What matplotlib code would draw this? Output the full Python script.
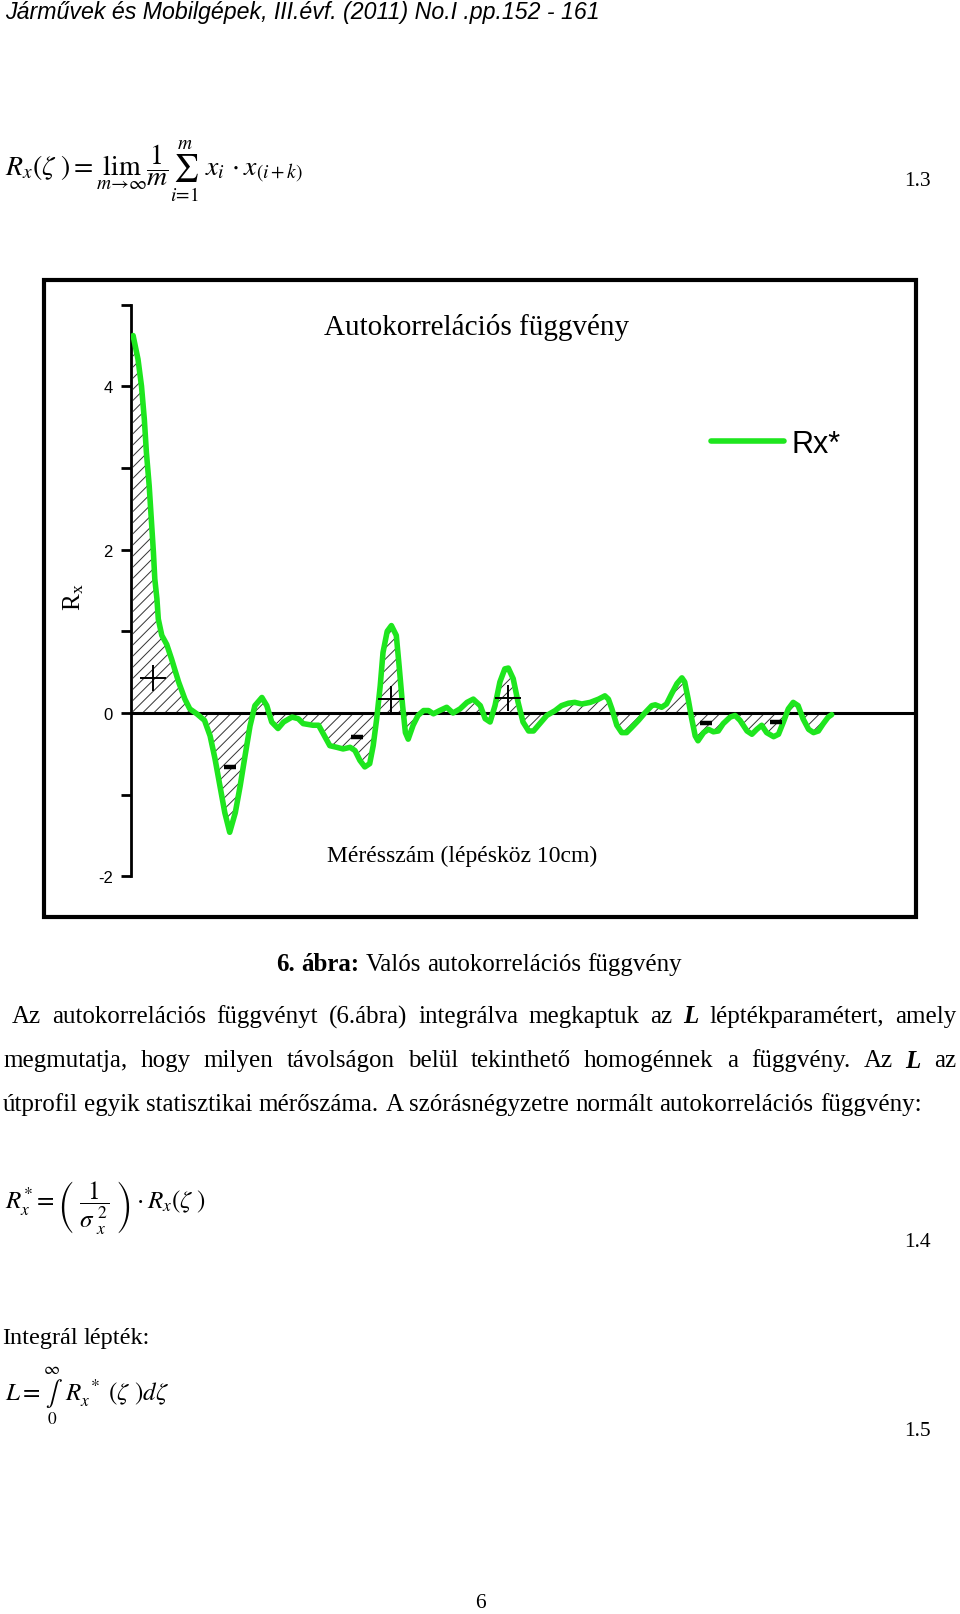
import matplotlib
matplotlib.use("Agg")
import matplotlib.pyplot as plt
from matplotlib.patches import Rectangle

plt.rcParams["axes.unicode_minus"] = False
plt.rcParams["mathtext.fontset"] = "stix"
plt.rcParams["hatch.linewidth"] = 0.7

W, H = 960, 1615
SERIF = "Liberation Serif"
SANS = "Liberation Sans"

# autocorrelation curve
lag = [0.3, 1.0, 1.5, 1.9, 2.2, 2.6, 2.9, 3.2, 3.4, 3.7,
       3.9, 4.4, 5.1, 5.8, 6.8, 7.7, 8.4, 9.4, 10.5, 11.3,
       12.0, 12.7, 13.4, 14.1, 14.9, 15.6, 16.3, 17.0, 17.7, 18.7,
       19.4, 20.1, 21.0, 21.8, 23.0, 23.9, 24.6, 26.0, 26.8, 27.5,
       28.4, 29.4, 30.3, 31.3, 32.0, 32.7, 33.4, 34.1, 34.6, 35.1,
       35.6, 36.0, 36.6, 37.2, 37.9, 38.3, 38.8, 39.2, 39.6, 40.3,
       41.0, 41.8, 42.5, 43.2, 44.1, 45.1, 46.0, 47.0, 48.0, 48.9,
       49.9, 50.6, 51.3, 52.0, 52.7, 53.4, 53.9, 54.6, 55.3, 56.0,
       56.8, 57.5, 58.4, 59.4, 60.6, 61.5, 62.5, 63.4, 64.4, 65.6,
       66.8, 67.7, 68.2, 68.7, 69.4, 70.1, 70.8, 71.5, 72.5, 73.4,
       74.4, 74.9, 75.8, 76.5, 77.2, 78.0, 78.7, 79.1, 79.6, 80.1,
       80.6, 81.0, 81.8, 82.5, 83.2, 83.9, 84.6, 85.6, 86.3, 87.0,
       88.0, 88.7, 89.4, 90.1, 90.8, 91.8, 92.5, 93.2, 93.9, 94.6,
       95.3, 96.0, 96.8, 97.5, 98.2, 98.9, 99.6, 100.1]
rx = [4.62, 4.33, 4.0, 3.6, 3.19, 2.78, 2.37, 1.97, 1.64, 1.40,
      1.15, 0.95, 0.84, 0.66, 0.38, 0.17, 0.05, -0.01, -0.09, -0.28,
      -0.56, -0.89, -1.22, -1.46, -1.22, -0.89, -0.52, -0.16, 0.09, 0.19,
      0.09, -0.11, -0.19, -0.11, -0.05, -0.07, -0.13, -0.15, -0.15, -0.26,
      -0.40, -0.42, -0.44, -0.42, -0.46, -0.58, -0.66, -0.62, -0.40, -0.07,
      0.33, 0.74, 1.0, 1.07, 0.95, 0.58, 0.09, -0.24, -0.32, -0.15,
      -0.03, 0.03, 0.03, -0.01, 0.03, 0.07, 0.0, 0.05, 0.13, 0.17,
      0.09, -0.07, -0.11, 0.09, 0.38, 0.54, 0.55, 0.42, 0.13, -0.11,
      -0.22, -0.22, -0.13, -0.03, 0.03, 0.09, 0.12, 0.13, 0.11, 0.13,
      0.17, 0.21, 0.17, 0.05, -0.15, -0.24, -0.24, -0.18, -0.09, 0.0,
      0.09, 0.10, 0.07, 0.11, 0.23, 0.36, 0.43, 0.38, 0.17, -0.07,
      -0.28, -0.34, -0.24, -0.20, -0.23, -0.22, -0.13, -0.05, -0.03, -0.09,
      -0.22, -0.26, -0.20, -0.15, -0.24, -0.29, -0.26, -0.11, 0.05, 0.13,
      0.09, -0.07, -0.20, -0.24, -0.22, -0.13, -0.05, -0.02]

# "+" and "-" sign annotations inside the hatched areas
plus_x = [3.2, 37.1, 53.8]
plus_y = [0.43, 0.17, 0.18]
minus_x = [14.1, 32.3, 82.1, 92.1]
minus_y = [-0.66, -0.29, -0.12, -0.11]

major_ticks = [-2, 0, 2, 4]
minor_ticks = [-1, 1, 3, 5]

para = [
    "Az autokorrelációs függvényt (6.ábra) integrálva megkaptuk az L léptékparamétert, amely",
    "megmutatja, hogy milyen távolságon belül tekinthető homogénnek a függvény. Az L az",
    "útprofil egyik statisztikai mérőszáma. A szórásnégyzetre normált autokorrelációs függvény:",
]

fig = plt.figure(figsize=(W / 100, H / 100), dpi=100)


def fx(px):
    return px / W


def fy(py):
    return 1 - py / H


# ---- chart -------------------------------------------------------------
fig.patches.append(Rectangle((fx(44), fy(918)), fx(916) - fx(44), fy(281) - fy(918),
                             transform=fig.transFigure, fill=False, lw=3, ec="black"))

top, bottom, left, right = 305.5, 877.4, 131, 915
ax = fig.add_axes([fx(left), fy(bottom), fx(right) - fx(left), (bottom - top) / H])
ax.set_xlim(0, 112)
ax.set_ylim(-2, 5)
for s in ["top", "right", "bottom"]:
    ax.spines[s].set_visible(False)
ax.spines["left"].set_linewidth(2)
ax.axhline(0, color="black", lw=2.2, zorder=2)
ax.set_xticks([])
ax.set_yticks(major_ticks)
ax.set_yticks(minor_ticks, minor=True)
ax.tick_params(axis="y", which="both", direction="out", length=7, width=2, pad=6)
for t in ax.get_yticklabels():
    t.set_family(SANS)
    t.set_fontsize(12)

ax.fill_between(lag, rx, 0, facecolor="none", edgecolor="#333333", hatch="///",
                linewidth=0, zorder=1)
ax.plot(lag, rx, color="#1EE61E", lw=4, solid_capstyle="round",
        solid_joinstyle="round", zorder=3, label="Rx*")
ax.plot(plus_x, plus_y, ls="none", marker="+", ms=19, mew=1.4, color="black", zorder=4)
ax.plot(minus_x, minus_y, ls="none", marker="_", ms=8, mew=3.2, color="black", zorder=4)

ax.legend(loc="center left", bbox_to_anchor=((711 - left) / (right - left), (bottom - 445) / (bottom - top)),
          frameon=False, handlelength=2.4, handletextpad=0.25, borderpad=0, borderaxespad=0,
          prop={"family": SANS, "size": 22})

ax.text(0.441, 0.961, "Autokorrelációs függvény", transform=ax.transAxes, ha="center", va="center",
        family=SERIF, fontsize=21)
ax.text(0.422, 0.036, "Mérésszám (lépésköz 10cm)", transform=ax.transAxes, ha="center", va="center",
        family=SERIF, fontsize=17)
ax.set_ylabel(r"R$_\mathregular{x}$", family=SERIF, fontsize=18)
ax.yaxis.set_label_coords((86 - left) / (right - left), (bottom - 597) / (bottom - top))

# ---- page text ---------------------------------------------------------
fig.text(fx(5), fy(13), "Járművek és Mobilgépek, III.évf. (2011) No.I .pp.152 - 161",
         family=SANS, style="italic", fontsize=16.7, va="center")

fig.text(fx(5), fy(172),
         r"$R_x(\zeta\ ) = \lim_{m\to\infty}\dfrac{1}{m}\sum_{i=1}^{m}\ x_i\cdot x_{(i+k)}$",
         fontsize=20, va="center")
fig.text(fx(5), fy(1208),
         r"$R_x^{*} = \left(\ \dfrac{1}{\sigma_{\ x}^{\ 2}}\ \right)\cdot R_x\left(\zeta\ \right)$",
         fontsize=18, va="center")
fig.text(fx(5), fy(1396),
         r"$L = \underset{0}{\overset{\infty}{\int}}\ R_x^{\ *}\ (\zeta\ )d\zeta$",
         fontsize=18, va="center")
for lab, yy in [("1.3", 181), ("1.4", 1243), ("1.5", 1432)]:
    fig.text(fx(904), fy(yy), lab, family=SERIF, fontsize=15.5, va="center")

renderer = fig.canvas.get_renderer()
FS = 18


def place_words(words, y, x0, x1=None, mode="left", styles=None, size=FS):
    texts = []
    for w in words:
        kw = dict(family=SERIF, fontsize=size, va="center")
        if w == "L":
            kw.update(weight="bold", style="italic")
        if styles and w in styles:
            kw.update(styles[w])
        texts.append(fig.text(0, fy(y), w, **kw))
    widths = [t.get_window_extent(renderer).width for t in texts]
    gap = 0.25 * size * 100 / 72
    if mode == "justify":
        gap = (x1 - x0 - sum(widths)) / (len(words) - 1)
    total = sum(widths) + gap * (len(words) - 1)
    x = x0 if mode != "center" else x0 - total / 2
    for t, wd in zip(texts, widths):
        t.set_x(fx(x))
        x += wd + gap


place_words(["6.", "ábra:", "Valós", "autokorrelációs", "függvény"], 965, 479, mode="center",
            styles={"6.": {"weight": "bold"}, "ábra:": {"weight": "bold"}})
place_words(para[0].split(), 1017, 12, 956, mode="justify")
place_words(para[1].split(), 1061, 3, 956, mode="justify")
place_words(para[2].split(), 1105, 3)
place_words(["Integrál", "lépték:"], 1339, 2, size=17.5)
fig.text(fx(480), fy(1604), "6", family=SERIF, fontsize=15.5, ha="center", va="center")

fig.savefig("out.png", dpi=100)
